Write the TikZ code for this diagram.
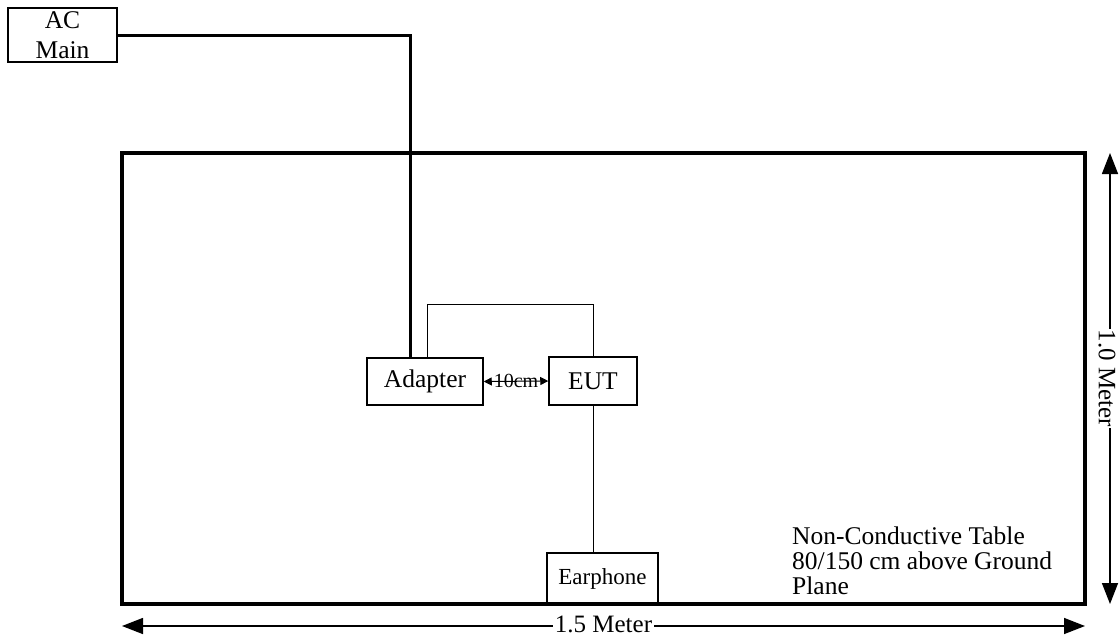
\documentclass[tikz,border=0pt]{standalone}
\usepackage{fontspec}
\setmainfont{Liberation Serif}
\usetikzlibrary{arrows.meta, positioning}

\begin{document}
\begin{tikzpicture}[
  x=1pt, y=-1pt,
  unit/.style={rectangle, draw, line width=1.5pt, inner sep=0pt, font=\fontsize{25.5}{30}\selectfont, align=center},
  cable/.style={line width=1pt},
  power/.style={line width=3pt},
  tablebox/.style={line width=3.5pt},
  dimline/.style={line width=1.5pt, {Triangle[length=21pt,width=16pt]}-{Triangle[length=21pt,width=16pt]}},
  dimlabel/.style={fill=white, inner sep=1.5pt, font=\fontsize{25}{25}\selectfont},
  gapline/.style={line width=1pt, {Triangle[length=8pt,width=8pt]}-{Triangle[length=8pt,width=8pt]}}
]
\useasboundingbox (0,0) rectangle (1120,638);

% Table
\draw[tablebox] (122,153) rectangle (1085,604);

% ============================================
% Units
% ============================================
\node[unit, minimum width=109pt, minimum height=54pt] (acmain) at (62.5,35) {AC\\Main};
\node[unit, minimum width=116pt, minimum height=47pt] (adapter) at (425,381.5) {Adapter};
\node[unit, minimum width=88pt, minimum height=48pt] (eut) at (593,381) {EUT};
\node[unit, minimum width=111pt, minimum height=51pt, font=\fontsize{23}{25}\selectfont] (earphone) at (602.5,578.5) {Earphone};

% ============================================
% Cables
% ============================================
\draw[power] (acmain.east) -| ([xshift=-15pt]adapter.north);
\draw[cable] ([xshift=2pt]adapter.north) -- ++(0,-53) -| (eut.north);
\draw[cable] (eut.south) -- (eut.south |- earphone.north);
\draw[gapline] (adapter.east) -- node[font=\fontsize{20}{20}\selectfont, inner sep=0pt] (gap) {10cm} (eut.west);

% Table note
\node[anchor=north west, align=left, inner sep=0pt, font=\fontsize{25.5}{25}\selectfont] (note) at (792,527) {Non-Conductive Table\\80/150 cm above Ground\\Plane};

% ============================================
% Dimensions
% ============================================
\coordinate (wleft) at (122,626);
\coordinate (wright) at (1085,626);
\coordinate (htop) at (1110,153);
\coordinate (hbottom) at (1110,604);
\draw[dimline] (wleft) -- node[dimlabel, yshift=2pt] (width) {1.5 Meter} (wright);
\draw[dimline] (htop) -- node[dimlabel, rotate=-90, inner sep=1pt, yshift=-3pt] (height) {1.0 Meter} (hbottom);

\end{tikzpicture}
\end{document}
